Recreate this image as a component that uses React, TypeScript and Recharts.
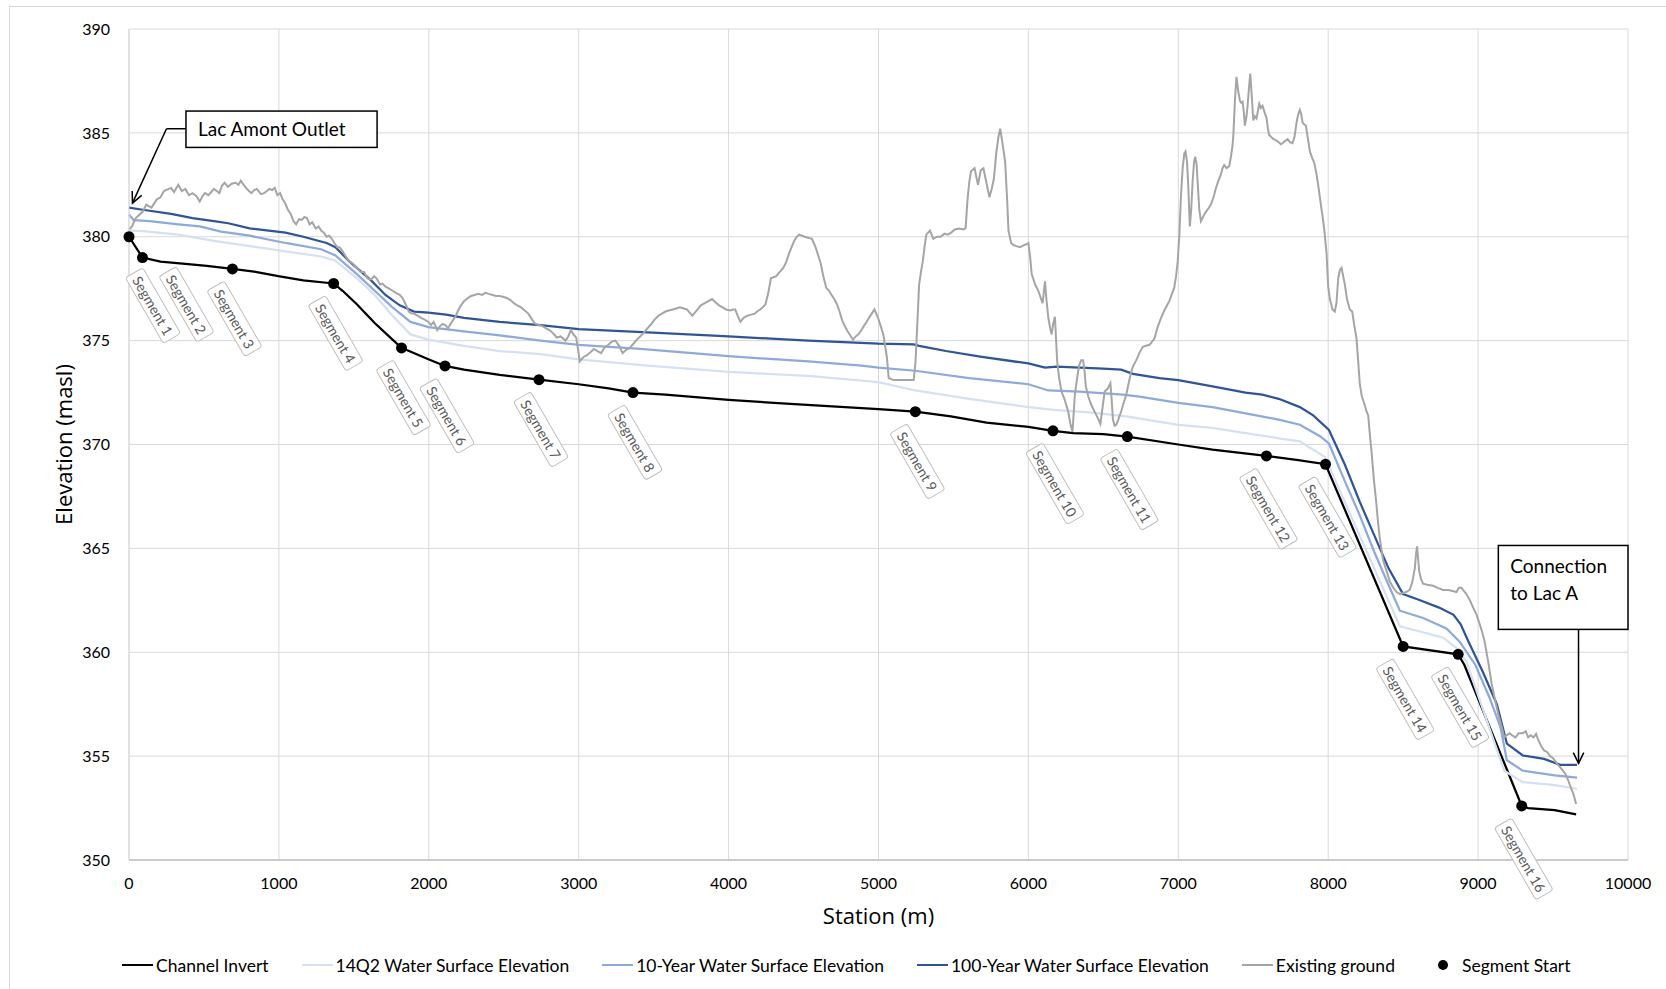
import React from "react";
import {
  ComposedChart,
  Line,
  Scatter,
  XAxis,
  YAxis,
  CartesianGrid,
  ReferenceArea,
  ReferenceLine,
  Label,
} from "recharts";

// axis ticks
const xTicks = [0, 1000, 2000, 3000, 4000, 5000, 6000, 7000, 8000, 9000, 10000];
const yTicks = [350, 355, 360, 365, 370, 375, 380, 385, 390];

// [station (m), elevation (masl)]
const channelInvert: [number, number][] = [
  [0, 380.0], [90, 379.0], [210, 378.8], [376, 378.7], [519, 378.6], [690, 378.45],
  [853, 378.3], [996, 378.1], [1163, 377.9], [1365, 377.75], [1425, 377.4], [1520, 376.75],
  [1639, 375.85], [1758, 375.05], [1818, 374.65], [1997, 374.1], [2108, 373.78], [2235, 373.6],
  [2473, 373.35], [2735, 373.12], [3000, 372.9], [3200, 372.7], [3362, 372.5], [3579, 372.4],
  [4000, 372.15], [4412, 371.95], [5000, 371.7], [5246, 371.58], [5483, 371.35], [5721, 371.05],
  [6000, 370.85], [6164, 370.66], [6299, 370.55], [6500, 370.5], [6660, 370.38], [7000, 370.0],
  [7228, 369.75], [7588, 369.45], [7800, 369.25], [7982, 369.05], [8500, 360.28], [8867, 359.9],
  [8908, 359.4], [9291, 352.6], [9334, 352.5], [9511, 352.4], [9654, 352.2],
];

const wse14Q2: [number, number][] = [
  [0, 380.3], [91, 380.27], [329, 380.1], [567, 379.8], [805, 379.55], [1044, 379.3],
  [1282, 379.05], [1377, 378.85], [1520, 378.0], [1639, 377.2], [1758, 376.2], [1878, 375.3],
  [1997, 375.05], [2235, 374.75], [2473, 374.5], [2745, 374.35], [3000, 374.1], [3460, 373.8],
  [4000, 373.5], [4532, 373.3], [5000, 373.0], [5245, 372.6], [5605, 372.2], [6000, 371.8],
  [6188, 371.65], [6409, 371.55], [6653, 371.35], [7000, 370.95], [7228, 370.8], [7449, 370.55],
  [7670, 370.3], [7811, 370.15], [7978, 369.4], [8478, 361.25], [8611, 361.0], [8767, 360.7],
  [8856, 360.2], [8922, 359.55], [9174, 354.3], [9298, 353.75], [9511, 353.6], [9660, 353.43],
];

const wse10Year: [number, number][] = [
  [0, 381.07], [31, 380.8], [138, 380.75], [329, 380.6], [472, 380.5], [615, 380.25],
  [805, 380.05], [1044, 379.7], [1282, 379.4], [1377, 379.1], [1520, 378.2], [1639, 377.4],
  [1758, 376.6], [1878, 375.9], [1997, 375.65], [2235, 375.45], [2473, 375.25], [2745, 375.0],
  [3000, 374.8], [3412, 374.6], [4000, 374.25], [4532, 374.0], [4889, 373.8], [5000, 373.7],
  [5245, 373.55], [5605, 373.2], [6000, 372.9], [6133, 372.6], [6343, 372.55], [6630, 372.4],
  [6741, 372.3], [7000, 372.0], [7228, 371.8], [7449, 371.5], [7670, 371.2], [7811, 370.95],
  [7945, 370.4], [8005, 370.05], [8113, 368.2], [8210, 366.6], [8306, 364.85], [8402, 363.25],
  [8478, 362.0], [8633, 361.65], [8789, 361.15], [8878, 360.5], [8981, 359.4], [9077, 357.8],
  [9149, 356.4], [9192, 354.8], [9298, 354.3], [9511, 354.07], [9660, 353.96],
];

const wse100Year: [number, number][] = [
  [0, 381.4], [91, 381.3], [281, 381.1], [424, 380.9], [567, 380.75], [662, 380.65],
  [805, 380.4], [1044, 380.2], [1163, 380.0], [1318, 379.7], [1377, 379.5], [1472, 378.8],
  [1615, 377.9], [1711, 377.2], [1806, 376.7], [1901, 376.4], [1997, 376.35], [2116, 376.25],
  [2235, 376.1], [2473, 375.9], [2745, 375.75], [3000, 375.55], [3460, 375.4], [4000, 375.2],
  [4532, 375.0], [5000, 374.85], [5235, 374.82], [5271, 374.75], [5450, 374.5], [5679, 374.23],
  [6000, 373.9], [6111, 373.7], [6188, 373.75], [6343, 373.7], [6498, 373.65], [6619, 373.6],
  [6697, 373.4], [6874, 373.2], [7000, 373.1], [7228, 372.8], [7449, 372.5], [7560, 372.4],
  [7670, 372.2], [7811, 371.8], [7900, 371.4], [8005, 370.7], [8113, 369.0], [8210, 367.25],
  [8306, 365.65], [8402, 364.05], [8499, 362.8], [8595, 362.55], [8740, 362.15], [8836, 361.8],
  [8884, 361.35], [8933, 360.55], [9029, 359.1], [9125, 357.5], [9192, 355.6], [9298, 355.03],
  [9440, 354.87], [9547, 354.58], [9660, 354.58],
];

const existingGround: [number, number][] = [
  [0, 380.35], [20, 380.5], [45, 380.9], [91, 381.2], [115, 381.55], [150, 381.4], [186, 381.8],
  [210, 381.9], [233, 382.2], [281, 382.35], [300, 382.15], [329, 382.5], [352, 382.2], [376, 382.3],
  [400, 382.0], [424, 382.1], [450, 381.95], [472, 381.7], [490, 381.95], [507, 382.1], [530, 382.0],
  [567, 382.3], [585, 382.2], [603, 382.1], [620, 382.45], [638, 382.6], [660, 382.4], [685, 382.55],
  [710, 382.6], [730, 382.5], [746, 382.7], [765, 382.5], [781, 382.35], [800, 382.2], [817, 382.1],
  [835, 382.25], [853, 382.3], [880, 382.05], [901, 382.1], [920, 382.2], [936, 382.3], [955, 382.25],
  [972, 382.35], [990, 382.0], [1008, 382.1], [1025, 381.8], [1043, 381.6], [1060, 381.3], [1079, 381.1],
  [1097, 380.75], [1115, 380.6], [1135, 380.85], [1151, 380.8], [1170, 380.95], [1187, 380.9],
  [1205, 380.6], [1222, 380.7], [1246, 380.4], [1265, 380.5], [1282, 380.3], [1300, 380.2],
  [1318, 380.0], [1335, 380.05], [1353, 379.9], [1370, 379.7], [1389, 379.5], [1405, 379.5],
  [1425, 379.3], [1450, 379.0], [1472, 378.8], [1495, 378.7], [1520, 378.5], [1545, 378.3],
  [1568, 378.3], [1590, 378.0], [1615, 377.95], [1635, 378.1], [1651, 378.0], [1675, 377.7],
  [1690, 377.75], [1711, 377.6], [1735, 377.5], [1758, 377.4], [1780, 377.3], [1806, 377.2],
  [1825, 377.05], [1842, 376.8], [1855, 376.6], [1866, 376.4], [1885, 376.3], [1901, 376.3],
  [1925, 376.2], [1949, 376.1], [1975, 376.0], [1997, 375.9], [2015, 375.75], [2032, 375.9],
  [2045, 375.7], [2056, 375.5], [2075, 375.7], [2092, 375.8], [2110, 375.75], [2128, 375.6],
  [2145, 375.8], [2163, 376.0], [2180, 376.2], [2199, 376.5], [2215, 376.7], [2235, 376.9],
  [2260, 377.05], [2282, 377.15], [2305, 377.2], [2330, 377.25], [2355, 377.2], [2378, 377.3],
  [2400, 377.25], [2425, 377.2], [2450, 377.15], [2473, 377.15], [2500, 377.1], [2521, 377.05],
  [2545, 376.95], [2568, 376.8], [2590, 376.7], [2616, 376.6], [2640, 376.45], [2664, 376.3],
  [2690, 376.0], [2711, 375.8], [2735, 375.75], [2759, 375.7], [2780, 375.6], [2807, 375.5],
  [2830, 375.35], [2854, 375.15], [2880, 375.2], [2912, 375.0], [2930, 375.2], [2948, 375.5],
  [2965, 375.3], [2983, 375.15], [2995, 374.6], [3007, 374.0], [3030, 374.2], [3055, 374.3],
  [3080, 374.45], [3102, 374.6], [3125, 374.5], [3150, 374.4], [3175, 374.7], [3198, 374.8],
  [3220, 374.95], [3245, 375.0], [3270, 374.75], [3293, 374.4], [3315, 374.55], [3341, 374.65],
  [3365, 374.85], [3388, 375.05], [3410, 375.2], [3436, 375.4], [3460, 375.6], [3484, 375.8],
  [3505, 376.0], [3531, 376.2], [3555, 376.3], [3579, 376.4], [3600, 376.45], [3627, 376.5],
  [3650, 376.55], [3674, 376.6], [3700, 376.55], [3722, 376.5], [3740, 376.35], [3758, 376.2],
  [3775, 376.35], [3793, 376.5], [3815, 376.7], [3841, 376.8], [3865, 376.9], [3889, 377.0],
  [3912, 376.85], [3936, 376.7], [3960, 376.6], [3984, 376.5], [4010, 376.45], [4030, 376.5],
  [4044, 376.5], [4060, 376.2], [4079, 375.9], [4100, 376.1], [4127, 376.2], [4150, 376.25],
  [4175, 376.3], [4190, 376.4], [4210, 376.5], [4228, 376.6], [4246, 376.75], [4265, 377.3],
  [4282, 378.0], [4300, 378.05], [4318, 378.1], [4340, 378.3], [4365, 378.5], [4385, 378.8],
  [4401, 379.15], [4420, 379.5], [4437, 379.8], [4455, 380.0], [4472, 380.1], [4490, 380.05],
  [4508, 380.0], [4530, 379.95], [4556, 379.9], [4568, 379.7], [4580, 379.5], [4598, 379.1],
  [4615, 378.7], [4632, 378.1], [4651, 377.55], [4670, 377.4], [4687, 377.2], [4705, 377.0],
  [4723, 376.75], [4740, 376.4], [4759, 375.95], [4775, 375.7], [4794, 375.45], [4812, 375.25],
  [4830, 375.05], [4848, 375.2], [4866, 375.3], [4885, 375.5], [4902, 375.7], [4920, 375.9],
  [4937, 376.1], [4955, 376.3], [4973, 376.5], [4985, 376.3], [4997, 376.1], [5015, 375.7],
  [5032, 375.3], [5045, 374.7], [5056, 374.2], [5068, 373.2], [5100, 373.1], [5150, 373.1],
  [5200, 373.1], [5235, 373.1], [5247, 374.0], [5259, 375.8], [5271, 377.7], [5283, 378.3],
  [5295, 378.8], [5307, 379.5], [5319, 380.1], [5343, 380.3], [5366, 379.9], [5390, 380.0],
  [5414, 380.0], [5440, 380.15], [5462, 380.1], [5485, 380.2], [5509, 380.35], [5540, 380.4],
  [5565, 380.35], [5581, 380.4], [5593, 381.7], [5605, 382.6], [5617, 383.15], [5641, 383.3],
  [5652, 382.9], [5664, 382.5], [5682, 383.2], [5700, 383.3], [5720, 382.6], [5740, 381.9],
  [5755, 382.3], [5770, 382.8], [5785, 384.0], [5800, 384.8], [5812, 385.2], [5825, 384.6],
  [5845, 383.6], [5858, 381.8], [5867, 380.3], [5885, 379.7], [5900, 379.6], [5920, 379.55],
  [5945, 379.5], [5970, 379.6], [5990, 379.65], [6000, 379.7], [6012, 379.0], [6022, 378.2],
  [6045, 377.7], [6066, 377.4], [6085, 377.0], [6095, 376.8], [6105, 377.5], [6111, 377.85],
  [6120, 377.0], [6133, 376.1], [6145, 375.6], [6155, 375.3], [6165, 375.8], [6177, 376.15],
  [6185, 375.0], [6192, 374.0], [6205, 373.2], [6221, 372.55], [6240, 372.2], [6265, 371.6],
  [6280, 371.0], [6294, 370.6], [6302, 371.5], [6310, 372.4], [6325, 373.2], [6338, 373.8],
  [6352, 374.05], [6365, 374.05], [6375, 373.5], [6383, 372.8], [6400, 372.3], [6420, 371.9],
  [6440, 371.6], [6454, 371.4], [6468, 371.2], [6480, 371.0], [6495, 371.8], [6509, 372.55],
  [6530, 372.7], [6547, 372.95], [6555, 372.2], [6564, 371.2], [6575, 370.9], [6586, 370.95],
  [6600, 371.2], [6619, 371.6], [6635, 372.0], [6653, 372.4], [6670, 373.0], [6686, 373.5],
  [6700, 373.8], [6719, 374.05], [6740, 374.4], [6763, 374.7], [6785, 374.75], [6808, 374.8],
  [6825, 374.95], [6841, 375.1], [6860, 375.6], [6885, 376.1], [6910, 376.5], [6940, 376.9],
  [6960, 377.3], [6973, 377.55], [6985, 378.1], [6996, 378.8], [7007, 380.1], [7018, 382.0],
  [7029, 383.3], [7040, 384.0], [7048, 384.1], [7058, 383.6], [7066, 382.5], [7077, 380.5],
  [7086, 381.3], [7095, 382.6], [7105, 383.6], [7113, 383.85], [7122, 383.5], [7130, 382.5],
  [7140, 381.3], [7151, 380.75], [7168, 381.0], [7184, 381.2], [7200, 381.35], [7217, 381.55],
  [7235, 381.9], [7251, 382.35], [7268, 382.7], [7284, 383.0], [7295, 383.3], [7306, 383.45],
  [7322, 383.3], [7340, 383.4], [7352, 383.9], [7362, 384.4], [7368, 385.0], [7378, 386.6],
  [7388, 387.7], [7400, 387.0], [7411, 386.55], [7420, 386.45], [7429, 386.5], [7437, 386.0],
  [7444, 385.35], [7455, 385.8], [7462, 386.3], [7472, 387.2], [7480, 387.85], [7490, 386.8],
  [7500, 385.6], [7511, 385.8], [7522, 385.7], [7532, 386.1], [7540, 386.4], [7550, 386.2],
  [7562, 386.3], [7575, 386.0], [7589, 385.7], [7598, 385.2], [7606, 384.9], [7620, 384.8],
  [7635, 384.7], [7651, 384.65], [7670, 384.55], [7685, 384.45], [7695, 384.5], [7710, 384.6],
  [7729, 384.7], [7745, 384.55], [7762, 384.5], [7775, 384.8], [7789, 385.5], [7800, 385.9],
  [7811, 386.1], [7820, 385.9], [7829, 385.5], [7840, 385.4], [7851, 385.35], [7865, 384.7],
  [7878, 384.1], [7893, 383.8], [7907, 383.55], [7920, 383.1], [7935, 382.4], [7951, 381.55],
  [7962, 381.0], [7973, 380.4], [7989, 379.2], [8000, 377.6], [8011, 377.0], [8029, 376.5],
  [8044, 376.4], [8055, 376.8], [8067, 378.0], [8078, 378.4], [8089, 378.5], [8100, 378.1],
  [8111, 377.7], [8125, 377.0], [8144, 376.5], [8160, 376.4], [8175, 375.7], [8189, 375.1],
  [8200, 374.0], [8211, 372.9], [8225, 372.3], [8244, 371.9], [8255, 371.6], [8267, 371.4],
  [8280, 370.3], [8289, 369.65], [8305, 368.3], [8322, 367.1], [8333, 366.2], [8344, 365.5],
  [8356, 364.9], [8367, 364.4], [8390, 363.9], [8411, 363.4], [8435, 363.1], [8456, 362.9],
  [8480, 362.8], [8500, 362.85], [8520, 362.9], [8544, 363.0], [8562, 363.4], [8578, 364.05],
  [8587, 364.8], [8593, 365.1], [8600, 364.5], [8607, 363.9], [8620, 363.5], [8633, 363.3],
  [8660, 363.25], [8700, 363.2], [8730, 363.1], [8767, 363.0], [8800, 363.0], [8830, 362.95],
  [8856, 362.9], [8872, 363.1], [8889, 363.1], [8905, 362.95], [8922, 362.8], [8945, 362.5],
  [8967, 362.15], [8990, 361.8], [9011, 361.35], [9030, 360.9], [9044, 360.5], [9067, 359.55],
  [9090, 358.5], [9113, 357.7], [9135, 357.0], [9150, 356.6], [9165, 356.2], [9174, 355.9],
  [9190, 356.0], [9210, 356.1], [9227, 356.0], [9250, 355.9], [9270, 356.1], [9298, 356.1],
  [9318, 356.2], [9334, 355.9], [9350, 356.0], [9370, 355.9], [9387, 356.07], [9400, 355.8],
  [9420, 355.5], [9440, 355.27], [9460, 355.2], [9480, 355.0], [9500, 354.9], [9511, 354.8],
  [9530, 354.6], [9550, 354.45], [9565, 354.3], [9582, 354.15], [9600, 353.85], [9618, 353.5],
  [9635, 353.2], [9654, 352.7],
];

// segment start points, in order (Segment 1 ... Segment 16)
const segmentStarts: [number, number][] = [
  [0, 380.0], [90, 379.0], [690, 378.45], [1365, 377.75], [1818, 374.65], [2108, 373.78],
  [2735, 373.12], [3362, 372.5], [5246, 371.58], [6164, 370.66], [6660, 370.38], [7588, 369.45],
  [7982, 369.05], [8500, 360.28], [8867, 359.9], [9291, 352.6],
];

// annotation boxes and arrows (station, elevation)
const outletBox = { x1: 380, x2: 1655, y1: 384.3, y2: 386.05, text: ["Lac Amont Outlet"] };
const outletArrow = { elbow: [250, 385.2], tip: [23, 381.62] };
const lacABox = { x1: 9135, x2: 10000, y1: 361.1, y2: 365.14, text: ["Connection", "to Lac A"] };
const lacAArrow = { from: [9670, 361.1], tip: [9670, 354.65] };

const pts = (rows: [number, number][]) => rows.map(([x, y]) => ({ x, y }));

const series = [
  { name: "Channel Invert", color: "#000000", data: channelInvert, width: 2.25 },
  { name: "14Q2 Water Surface Elevation", color: "#D5E0F3", data: wse14Q2, width: 2.25 },
  { name: "10-Year Water Surface Elevation", color: "#8EA9DB", data: wse10Year, width: 2.25 },
  { name: "100-Year Water Surface Elevation", color: "#2F5597", data: wse100Year, width: 2.25 },
  { name: "Existing ground", color: "#A5A5A5", data: existingGround, width: 2 },
];

const tickFont = { fontFamily: "Lato, 'Liberation Sans', sans-serif", fontSize: 16, fill: "#000" };
const titleFont = "'Open Sans', 'Noto Sans', sans-serif";

// extra label shifts where Excel labels were moved by hand
const labelNudge: Record<number, [number, number]> = { 1: [22, 19], 2: [42, -3] };

const SegmentMarker = (props: any) => {
  const { cx, cy, payload } = props;
  if (cx == null || cy == null) return null;
  const text = `Segment ${payload.seg}`;
  const boxW = text.length * 7.2 + 11;
  const boxH = 20;
  const half = (boxW / 2) * Math.sin(Math.PI / 3) + (boxH / 2) * Math.cos(Math.PI / 3);
  const [nx, ny] = labelNudge[payload.seg] ?? [0, 0];
  const lx = cx + 2 + nx;
  const ly = cy + 12 + half + ny;
  return (
    <g>
      <g transform={`translate(${lx},${ly}) rotate(60)`}>
        <rect x={-boxW / 2} y={-boxH / 2} width={boxW} height={boxH} rx={3} fill="#fff" stroke="#BFBFBF" />
        <text
          x={0}
          y={0}
          textAnchor="middle"
          dominantBaseline="central"
          fontFamily="Lato, sans-serif"
          fontSize={14}
          fill="#595959"
        >
          {text}
        </text>
      </g>
      <circle cx={cx} cy={cy} r={5.5} fill="#000" />
    </g>
  );
};

const makeBox = (lines: string[]) => (props: any) => {
  const { x, y, width, height } = props;
  return (
    <g>
      <rect x={x} y={y} width={width} height={height} fill="#fff" stroke="#000" strokeWidth={1.5} />
      {lines.map((t, i) => (
        <text
          key={t}
          x={x + 12}
          y={lines.length === 1 ? y + height / 2 + 7 : y + 28 + i * 26.5}
          fontFamily="Lato, sans-serif"
          fontSize={19}
          fill="#000"
        >
          {t}
        </text>
      ))}
    </g>
  );
};

const plainLine = (props: any) => {
  const { x1, y1, x2, y2 } = props;
  return <line x1={x1} y1={y1} x2={x2} y2={y2} stroke="#000" strokeWidth={1.5} />;
};

const arrowLine = (props: any) => {
  const { x1, y1, x2, y2 } = props;
  const ang = Math.atan2(y2 - y1, x2 - x1);
  const len = 12;
  const spread = 0.45;
  const ax = x2 - len * Math.cos(ang - spread);
  const ay = y2 - len * Math.sin(ang - spread);
  const bx = x2 - len * Math.cos(ang + spread);
  const by = y2 - len * Math.sin(ang + spread);
  return (
    <g>
      <line x1={x1} y1={y1} x2={x2} y2={y2} stroke="#000" strokeWidth={1.5} />
      <polyline points={`${ax},${ay} ${x2},${y2} ${bx},${by}`} fill="none" stroke="#000" strokeWidth={1.5} />
    </g>
  );
};

const segData = segmentStarts.map(([x, y], i) => ({ x, y, seg: i + 1 }));

export default function App() {
  return (
    <div
      style={{
        position: "relative",
        width: 1666,
        height: 989,
        overflow: "hidden",
        background: "#fff",
        fontFamily: "Lato, sans-serif",
      }}
    >
      <style>{`body{margin:0;}`}</style>
      <div
        style={{
          position: "absolute",
          left: 9,
          top: 6,
          width: 1720,
          height: 1100,
          border: "1px solid #D9D9D9",
        }}
      />
      <div style={{ position: "absolute", left: 0, top: 0 }}>
        <ComposedChart width={1666} height={989} margin={{ top: 29, right: 38, left: 68, bottom: 99 }}>
          <CartesianGrid stroke="#D9D9D9" strokeWidth={1} />
          <XAxis
            type="number"
            dataKey="x"
            domain={[0, 10000]}
            ticks={xTicks}
            interval={0}
            height={30}
            tickLine={false}
            tickMargin={12}
            axisLine={{ stroke: "#BFBFBF", strokeWidth: 1.5 }}
            tick={tickFont}
          >
            <Label
              value="Station (m)"
              position="bottom"
              offset={18}
              style={{ fontFamily: titleFont, fontSize: 22, fill: "#000" }}
            />
          </XAxis>
          <YAxis
            type="number"
            dataKey="y"
            domain={[350, 390]}
            ticks={yTicks}
            interval={0}
            width={61}
            tickLine={false}
            tickMargin={13}
            axisLine={{ stroke: "#D9D9D9" }}
            tick={tickFont}
          >
            <Label
              content={(p: any) => {
                const vb = p.viewBox || {};
                const cx = vb.x - 5;
                const cy = vb.y + vb.height / 2;
                return (
                  <text
                    x={cx}
                    y={cy}
                    transform={`rotate(-90, ${cx}, ${cy})`}
                    textAnchor="middle"
                    dominantBaseline="central"
                    fontFamily={titleFont}
                    fontSize={22}
                    fill="#000"
                  >
                    Elevation (masl)
                  </text>
                );
              }}
            />
          </YAxis>

          {series.map((s) => (
            <Line
              key={s.name}
              name={s.name}
              data={pts(s.data)}
              dataKey="y"
              type="linear"
              stroke={s.color}
              strokeWidth={s.width}
              dot={false}
              activeDot={false}
              isAnimationActive={false}
            />
          ))}

          <ReferenceArea
            x1={outletBox.x1}
            x2={outletBox.x2}
            y1={outletBox.y1}
            y2={outletBox.y2}
            shape={makeBox(outletBox.text)}
            ifOverflow="visible"
          />
          <ReferenceArea
            x1={lacABox.x1}
            x2={lacABox.x2}
            y1={lacABox.y1}
            y2={lacABox.y2}
            shape={makeBox(lacABox.text)}
            ifOverflow="visible"
          />
          <ReferenceLine
            segment={[
              { x: outletBox.x1, y: outletArrow.elbow[1] },
              { x: outletArrow.elbow[0], y: outletArrow.elbow[1] },
            ]}
            shape={plainLine}
            ifOverflow="visible"
          />
          <ReferenceLine
            segment={[
              { x: outletArrow.elbow[0], y: outletArrow.elbow[1] },
              { x: outletArrow.tip[0], y: outletArrow.tip[1] },
            ]}
            shape={arrowLine}
            ifOverflow="visible"
          />
          <ReferenceLine
            segment={[
              { x: lacAArrow.from[0], y: lacAArrow.from[1] },
              { x: lacAArrow.tip[0], y: lacAArrow.tip[1] },
            ]}
            shape={arrowLine}
            ifOverflow="visible"
          />

          <Scatter
            name="Segment Start"
            data={segData}
            dataKey="y"
            shape={SegmentMarker}
            isAnimationActive={false}
          />
        </ComposedChart>
      </div>

      {/* legend */}
      <div
        style={{
          position: "absolute",
          left: 122,
          top: 954,
          height: 22,
          display: "flex",
          alignItems: "center",
          gap: 33,
          fontFamily: "Lato, sans-serif",
          fontSize: 17.5,
          color: "#000",
          whiteSpace: "nowrap",
        }}
      >
        {series.map((s) => (
          <div key={s.name} style={{ display: "flex", alignItems: "center" }}>
            <div style={{ width: 31, height: 2.5, background: s.color, marginRight: 3 }} />
            <span>{s.name}</span>
          </div>
        ))}
        <div style={{ display: "flex", alignItems: "center" }}>
          <div style={{ width: 31, display: "flex", justifyContent: "center", marginRight: 3 }}>
            <div style={{ width: 10, height: 10, borderRadius: 5, background: "#000" }} />
          </div>
          <span>Segment Start</span>
        </div>
      </div>
    </div>
  );
}
